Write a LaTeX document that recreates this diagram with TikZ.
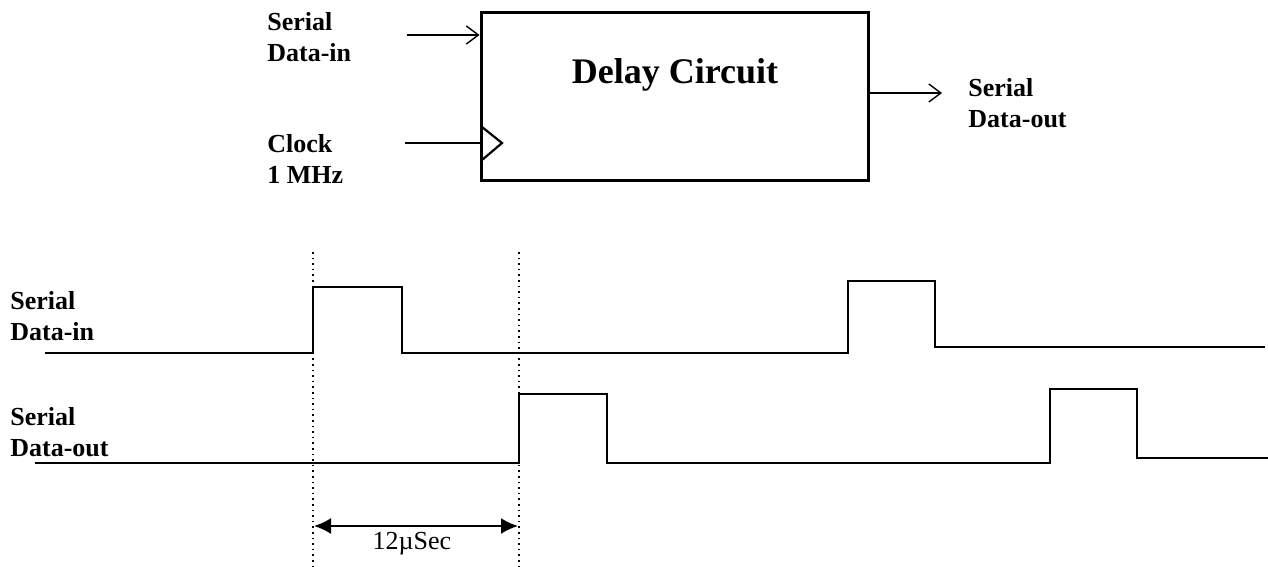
\documentclass[tikz,border=0pt]{standalone}
\usepackage{fontspec}
\setmainfont{Liberation Serif}
\usetikzlibrary{arrows.meta}
\begin{document}
\begin{tikzpicture}[x=0.5pt, y=-0.5pt,
    lbl/.style={anchor=west, align=left, inner sep=0pt,
        font=\fontsize{13}{15.5}\selectfont\bfseries},
    sig/.style={line width=1.1pt, line join=miter},
    pin/.style={line width=0.7pt},
    guide/.style={line width=0.8pt, dotted}]

    \useasboundingbox (0,0) rectangle (1268,567);

    % Niveaux des signaux
    \def\lin{353}   % Data-in bas
    \def\hin{287}   % Data-in haut
    \def\lout{463}  % Data-out bas
    \def\hout{394}  % Data-out haut

    % ==============================================
    % BLOC : circuit de retard
    % ==============================================
    \node[draw, line width=1.5pt, minimum width=193.5pt, minimum height=83.5pt,
          inner sep=0pt] (dly) at (674.5,96.5) {};
    \node[font=\fontsize{18}{20}\selectfont\bfseries] (title) at (675,75) {Delay Circuit};

    % Entrees et sortie
    \node[lbl] (din) at (267,37) {Serial\\Data-in};
    \node[lbl] (clk) at (267,159) {Clock\\1 MHz};
    \node[lbl] (dout) at (968,103) {Serial\\Data-out};

    \coordinate (dinA) at (407,35);
    \coordinate (clkA) at (405,143);
    \coordinate (doutB) at (942,93);
    \draw[pin, -{Straight Barb[length=6pt, width=9pt]}] (dinA) -- (dinA -| dly.west);
    \draw[pin] (clkA) -- (clkA -| dly.west);
    \draw[pin, -{Straight Barb[length=6pt, width=9pt]}] (doutB -| dly.east) -- (doutB);

    % Triangle d'horloge
    \draw[line width=1.1pt] (482,127) -- (502,143) -- (482,160);

    % ==============================================
    % CHRONOGRAMMES
    % ==============================================
    \node[lbl] (win) at (10,316) {Serial\\Data-in};
    \node[lbl] (wout) at (10,432) {Serial\\Data-out};

    % Data-in : deux impulsions
    \draw[sig] (45,\lin) -- (313,\lin) -- (313,\hin) -- (402,\hin) -- (402,\lin)
        -- (848,\lin) -- (848,\hin-6) -- (935,\hin-6) -- (935,\lin-6) -- (1265,\lin-6);

    % Data-out : les memes impulsions retardees
    \draw[sig] (35,\lout) -- (519,\lout) -- (519,\hout) -- (607,\hout) -- (607,\lout)
        -- (1050,\lout) -- (1050,\hout-5) -- (1137,\hout-5) -- (1137,\lout-5) -- (1268,\lout-5);

    % Lignes guides verticales
    \foreach \x/\n in {313/gA, 519/gB} {
        \coordinate (\n top) at (\x,252);
        \coordinate (\n bot) at (\x,567);
        \draw[guide] (\n top) -- (\n bot);
    }

    % Cote du retard
    \coordinate (dimA) at (314,526);
    \coordinate (dimB) at (518,526);
    \draw[line width=1pt, {Latex[length=8.5pt, width=8pt]}-{Latex[length=8.5pt, width=8pt]}]
        (dimA) -- (dimB);
    \node[font=\fontsize{13}{15}\selectfont] (delay) at (412,544) {12\textmu Sec};

\end{tikzpicture}
\end{document}
